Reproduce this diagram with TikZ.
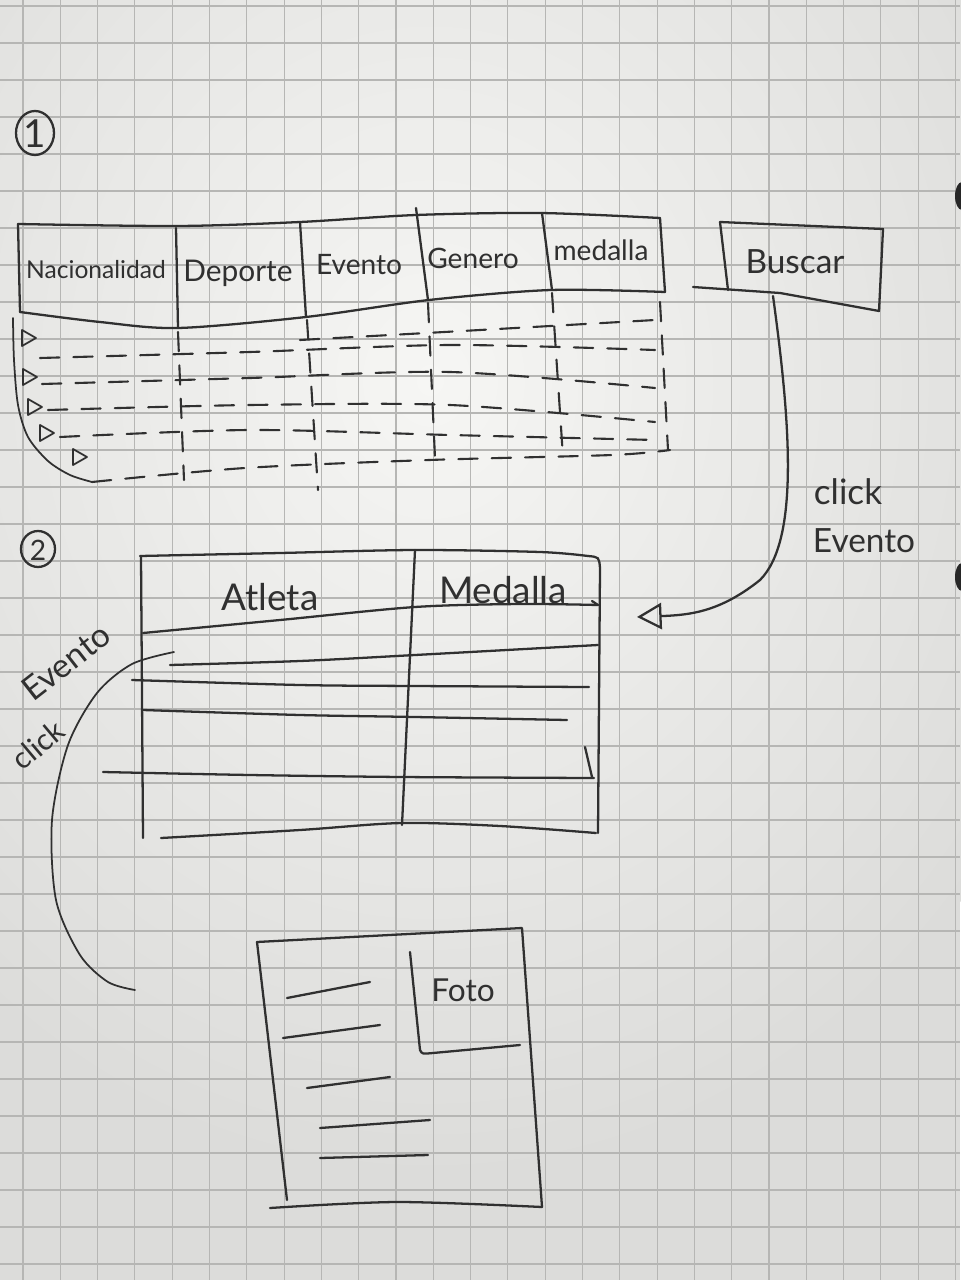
\documentclass[tikz,border=0pt]{standalone}
\usepackage{fontspec}
\setmainfont{Lato}
\usetikzlibrary{arrows.meta}
\definecolor{paper}{HTML}{DCDCDA}
\definecolor{paperhi}{HTML}{F6F6F4}
\definecolor{gridc}{HTML}{B6B6B4}
\definecolor{ink}{HTML}{303030}
\begin{document}
\begin{tikzpicture}[x=0.02cm,y=-0.02cm,
  pen/.style={draw=ink,line width=1.3pt,line cap=round,line join=round},
  thinpen/.style={draw=ink,line width=1pt,line cap=round,line join=round},
  dashpen/.style={draw=ink,line width=1.2pt,line cap=round,dash pattern=on 11pt off 8pt},
  hand/.style={text=ink,inner sep=0pt},
  fs/.style={font=\fontsize{#1}{#1}\selectfont},
]
\useasboundingbox (0,0) rectangle (960,1280);
% squared paper
\fill[paper] (0,0) rectangle (960,1280);
\shade[inner color=paperhi, outer color=paper] (430,380) ellipse [x radius=700, y radius=800];
\foreach \i in {0,...,25}
  \draw[gridc, line width=0.6pt] ({23+37.3*\i},0) -- ({23+37.3*\i},1280);
\foreach \j in {0,...,34}
  \draw[gridc, line width=0.6pt] (0,{6+37*\j}) -- (960,{6+37*\j});
% binder holes
\fill[ink!80!black] (962,196) ellipse [x radius=7, y radius=14];
\fill[ink!80!black] (962,577) ellipse [x radius=7, y radius=14];

% ---- screen 1 : search table ----
\draw[pen] (35,133) ellipse [x radius=19, y radius=22];
\node[hand,fs=22] (num1) at (35,134) {1};

% header row
\draw[pen] plot[smooth] coordinates {(18,224) (178,226) (300,222) (416,215) (540,213) (660,218)};
\draw[pen] plot[smooth] coordinates {(20,312) (100,322) (178,328) (306,317) (429,300) (551,290) (665,292)};
\draw[pen] (18,224) -- (20,312);
\draw[pen] (660,218) -- (665,292);
\draw[pen] (176,228) -- (178,328);
\draw[pen] (300,222) -- (306,317);
\draw[pen] (416,208) -- (428,300);
\draw[pen] (542,213) -- (552,290);
\node[hand,fs=14] (hnac) at (96,270) {Nacionalidad};
\node[hand,fs=17] (hdep) at (238,273) {Deporte};
\node[hand,fs=16] (hevt) at (359,265) {Evento};
\node[hand,fs=16] (hgen) at (473,258) {Genero};
\node[hand,fs=16] (hmed) at (601,250) {medalla};

% result rows (dashed)
\draw[thinpen] plot[smooth] coordinates {(13,318) (14,360) (18,405) (28,437) (48,461) (70,475) (92,482)};
\draw[dashpen] plot[smooth] coordinates {(92,482) (245,468) (429,460) (612,455) (670,450)};
\draw[dashpen] (660,302) -- (668,450);
\draw[dashpen] (178,332) -- (184,480);
\draw[dashpen] (307,320) -- (318,490);
\draw[dashpen] (428,303) -- (435,458);
\draw[dashpen] (552,293) -- (563,457);
\draw[dashpen] plot[smooth] coordinates {(300,340) (480,330) (655,320)};
\draw[dashpen] plot[smooth] coordinates {(40,358) (250,352) (450,345) (655,350)};
\draw[dashpen] plot[smooth] coordinates {(42,384) (250,378) (450,372) (655,388)};
\draw[dashpen] plot[smooth] coordinates {(48,410) (250,405) (450,405) (655,422)};
\draw[dashpen] plot[smooth] coordinates {(60,437) (250,430) (450,435) (655,440)};
\foreach \x/\y in {28/338, 29/377, 34/407, 46/433, 79/457}
  \draw[thinpen, shift={(\x,\y)}] (-6,-8) -- (8,0) -- (-6,8) -- cycle;

% search button
\draw[pen] (720,222) -- (883,229) -- (879,311) -- (780,293) -- (693,287);
\draw[pen] (720,222) -- (728,290);
\node[hand,fs=19] (buscar) at (795,262) {Buscar};
\coordinate (bfoot) at (773,296);

% ---- screen 2 : athletes ----
\draw[pen] (38,549) ellipse [x radius=17, y radius=18];
\node[hand,fs=16] (num2) at (38,550) {2};

\draw[pen] plot[smooth] coordinates {(140,556) (280,553) (415,550) (540,552) (588,556)};
\draw[pen] (588,556) .. controls (599,557) .. (600,568) -- (598,833);
\draw[pen] (141,556) -- (143,838);
\draw[pen] (415,550) -- (402,825);
\draw[pen] plot[smooth] coordinates {(143,633) (280,620) (415,607) (520,604) (598,605)};
\draw[pen] (598,605) -- (592,601);
\node[hand,fs=21] (atleta) at (270,597) {Atleta};
\node[hand,fs=21] (medalla) at (503,590) {Medalla};
\draw[pen] plot[smooth] coordinates {(170,665) (300,661) (415,655) (598,645)};
\draw[pen] plot[smooth] coordinates {(132,680) (300,685) (415,686) (589,687)};
\draw[pen] plot[smooth] coordinates {(143,710) (300,715) (415,717) (567,720)};
\draw[pen] (585,747) -- (592,777);
\draw[pen] plot[smooth] coordinates {(103,772) (250,775) (402,777) (594,778)};
\draw[pen] plot[smooth] coordinates {(161,838) (300,830) (402,823) (500,826) (596,833)};
\coordinate (t2in) at (637,617);
\coordinate (t2out) at (174,652);

% Buscar -> screen 2
\draw[pen, -{Triangle[open, length=14pt, width=15pt]}]
  (bfoot) .. controls (790,420) and (800,540) .. (760,580)
          .. controls (720,612) and (690,615) .. (t2in);
\node[hand,fs=20] (lclick1) at (848,492) {click};
\node[hand,fs=19] (levt1) at (864,541) {Evento};

% ---- screen 3 : athlete detail ----
\draw[pen] (257,942) -- (522,928) -- (542,1207);
\draw[pen] (257,942) -- (287,1200);
\draw[pen] plot[smooth] coordinates {(270,1208) (397,1202) (542,1207)};
\draw[pen] (410,952) -- (420,1050) .. controls (422,1054) .. (433,1053) -- (520,1045);
\node[hand,fs=18] (foto) at (463,990) {Foto};
\draw[pen] (287,998) -- (370,982);
\draw[pen] (283,1038) -- (380,1025);
\draw[pen] (307,1088) -- (390,1077);
\draw[pen] (320,1128) -- (430,1120);
\draw[pen] (320,1158) -- (428,1155);
\coordinate (t3in) at (135,990);

% screen 2 -> screen 3
\draw[thinpen] plot[smooth] coordinates {(t2out) (132,664) (97,693) (68,745) (52,820) (56,900) (80,955) (108,982) (t3in)};
\node[hand,fs=19,rotate=38] (levt2) at (66,662) {Evento};
\node[hand,fs=17,rotate=40] (lclick2) at (38,745) {click};
\end{tikzpicture}
\end{document}
